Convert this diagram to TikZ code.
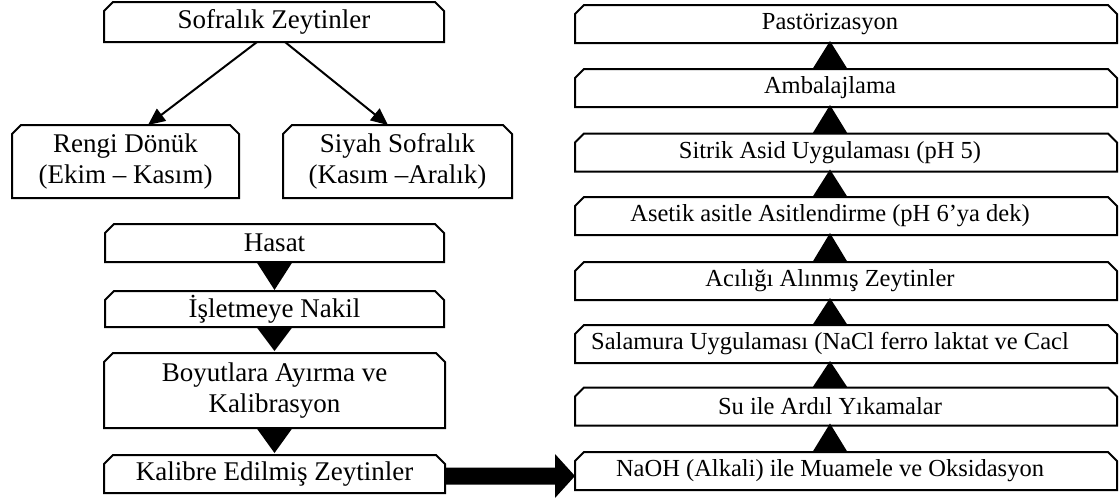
\documentclass[tikz,border=0pt]{standalone}
\usepackage{fontspec}
\setmainfont{Liberation Serif}
\usetikzlibrary{calc,arrows.meta}
\newcommand\chamfbox[1]{%
  \draw[boxline] (#1.south west) -- ($(#1.north west)+(0,9)$) -- ($(#1.north west)+(9,0)$)
    -- ($(#1.north east)+(-9,0)$) -- ($(#1.north east)+(0,9)$) -- (#1.south east) -- cycle;}
\tikzset{
  boxline/.style={line width=2pt, line join=miter},
  bx/.style={rectangle, inner sep=0pt, outer sep=0pt, align=center,
    font=\fontsize{27}{31}\selectfont},
  rbx/.style={rectangle, inner sep=0pt, outer sep=0pt, minimum width=542pt, minimum height=38pt},
  txt/.style={inner sep=0pt, font=\fontsize{24.5}{31}\selectfont},
  tri/.style={fill=black},
  conn/.style={line width=2pt, -{Triangle[length=17pt,width=15pt]}},
}
\begin{document}
\begin{tikzpicture}[x=1pt,y=-1pt]
\useasboundingbox (0,0) rectangle (1119,498);
% left column
\node[bx, minimum width=340pt, minimum height=40pt] (s) at (274,22) {Sofralık Zeytinler};
\node[bx, minimum width=227pt, minimum height=73pt] (rd) at (125.5,161.5) {Rengi Dönük\\(Ekim – Kasım)};
\node[bx, minimum width=229pt, minimum height=73pt] (ss) at (397.5,161.5) {Siyah Sofralık\\(Kasım –Aralık)};
\node[bx, minimum width=339pt, minimum height=38pt] (h) at (274.5,243) {Hasat};
\node[bx, minimum width=339pt, minimum height=36pt] (n) at (274.5,309) {İşletmeye Nakil};
\node[bx, minimum width=341pt, minimum height=75pt] (b) at (274.5,390.5) {Boyutlara Ayırma ve\\Kalibrasyon};
\node[bx, minimum width=341pt, minimum height=38pt] (kz) at (274.5,474) {Kalibre Edilmiş Zeytinler};
\foreach \nm in {s,rd,ss,h,n,b,kz}{\chamfbox{\nm}}
% right column boxes
\node[rbx] (r1) at (846,24) {};
\node[rbx] (r2) at (846,88) {};
\node[rbx] (r3) at (846,152.5) {};
\node[rbx] (r4) at (846,216) {};
\node[rbx] (r5) at (846,281) {};
\node[rbx] (r6) at (846,344) {};
\node[rbx] (r7) at (846,406.5) {};
\node[rbx] (r8) at (846,471) {};
\foreach \nm in {r1,r2,r3,r4,r5,r6,r7,r8}{\chamfbox{\nm}}
\node[txt] (t1) at (830,24) {Pastörizasyon};
\node[txt] (t2) at (830,88) {Ambalajlama};
\node[txt] (t3) at (830,152.5) {Sitrik Asid Uygulaması (pH 5)};
\node[txt] (t4) at (830,216) {Asetik asitle Asitlendirme (pH 6’ya dek)};
\node[txt] (t5) at (830,281) {Acılığı Alınmış Zeytinler};
\node[txt] (t6) at (830,344) {Salamura Uygulaması (NaCl ferro laktat ve Cacl};
\node[txt] (t7) at (830,406.5) {Su ile Ardıl Yıkamalar};
\node[txt] (t8) at (830,471) {NaOH (Alkali) ile Muamele ve Oksidasyon};
% diagonal arrows
\draw[conn] ($(s.south)+(-17,0)$) -- ($(rd.north)+(22.5,0)$);
\draw[conn] ($(s.south)+(11,0)$) -- ($(ss.north)+(-9.5,0)$);
% left down triangles
\fill[tri] ($(h.south)+(-18,0)$) -- ($(h.south)+(18,0)$) -- ($(n.north)+(0,-1)$) -- cycle;
\fill[tri] ($(n.south)+(-18,0)$) -- ($(n.south)+(18,0)$) -- ($(b.north)+(0,-2)$) -- cycle;
\fill[tri] ($(b.south)+(-18,0)$) -- ($(b.south)+(18,0)$) -- ($(kz.north)+(0,-2)$) -- cycle;
% right up triangles
\foreach \lo/\up/\tl/\tu in {r2/r1/t2/t1, r3/r2/t3/t2, r4/r3/t4/t3, r5/r4/t5/t4, r6/r5/t6/t5, r7/r6/t7/t6, r8/r7/t8/t7}{
  \fill[tri] ($(\tl |- \lo.north)+(-17.5,0)$) -- ($(\tl |- \lo.north)+(17.5,0)$) -- ($(\tu |- \up.south)+(0,-2)$) -- cycle;
}
% big arrow
\coordinate (as) at ($(kz.east)+(0,2)$);
\coordinate (ah) at ($(r8.west |- kz.east)+(0,2)$);
\fill ($(as)+(0,-8.5)$) -- ($(ah)+(-20,-8.5)$) -- ($(ah)+(-20,-22)$) -- (ah)
  -- ($(ah)+(-20,22)$) -- ($(ah)+(-20,8.5)$) -- ($(as)+(0,8.5)$) -- cycle;
\end{tikzpicture}
\end{document}
